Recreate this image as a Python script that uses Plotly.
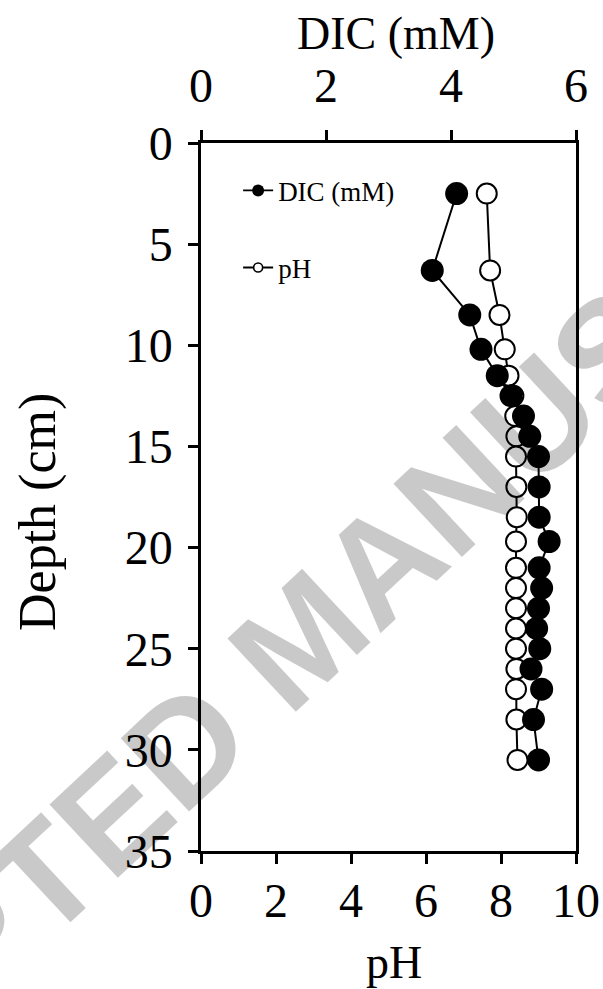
import plotly.graph_objects as go

depth_cm = [2.5, 6.3, 8.5, 10.2, 11.5, 12.5, 13.5, 14.5, 15.5, 17.0, 18.5, 19.7,
            21.0, 22.0, 23.0, 24.0, 25.0, 26.0, 27.0, 28.5, 30.5]
dic_mM = [4.09, 3.70, 4.30, 4.48, 4.74, 4.96, 5.16, 5.26, 5.40, 5.41, 5.41, 5.57,
          5.41, 5.45, 5.40, 5.37, 5.42, 5.28, 5.45, 5.32, 5.40]
ph_vals = [7.62, 7.71, 7.96, 8.10, 8.20, 8.33, 8.38, 8.41, 8.40, 8.41, 8.42, 8.40,
           8.40, 8.40, 8.40, 8.40, 8.40, 8.41, 8.40, 8.41, 8.44]

ph_ticks = [0, 2, 4, 6, 8, 10]
dic_ticks = [0, 2, 4, 6]
depth_ticks = [0, 5, 10, 15, 20, 25, 30, 35]

FONT = "Liberation Serif"
fs_tick = 48
fs_xtitle = 46
fs_ytitle = 52

fig = go.Figure()
# data traces
fig.add_trace(go.Scatter(
    x=ph_vals, y=depth_cm, name="pH", mode="lines+markers",
    xaxis="x", yaxis="y", showlegend=False,
    line=dict(color="black", width=2),
    marker=dict(symbol="circle", size=20, color="white",
                line=dict(color="black", width=2)),
))
fig.add_trace(go.Scatter(
    x=dic_mM, y=depth_cm, name="DIC (mM)", mode="lines+markers",
    xaxis="x2", yaxis="y", showlegend=False,
    line=dict(color="black", width=2),
    marker=dict(symbol="circle", size=23, color="black",
                line=dict(color="black", width=0)),
))
# legend entries (no data, legend only)
fig.add_trace(go.Scatter(
    x=[None], y=[None], name="DIC (mM)", mode="lines+markers",
    legendgroup="a", legendrank=1,
    line=dict(color="black", width=1.8),
    marker=dict(symbol="circle", size=12, color="black", line=dict(width=0)),
))
fig.add_trace(go.Scatter(
    x=[None], y=[None], name="pH", mode="lines+markers",
    legendgroup="b", legendrank=2,
    line=dict(color="black", width=1.8),
    marker=dict(symbol="circle", size=9, color="white",
                line=dict(color="black", width=1.6)),
))

axis_common = dict(showline=True, linecolor="black", linewidth=2.5,
                   ticks="outside", ticklen=10, tickwidth=2.5, tickcolor="black",
                   showgrid=False, zeroline=False,
                   tickfont=dict(family=FONT, size=fs_tick, color="black"))

fig.update_layout(
    width=603, height=989,
    margin=dict(l=201, r=27, t=143, b=138, autoexpand=False),
    paper_bgcolor="white", plot_bgcolor="white",
    font=dict(family=FONT, color="black"),
    showlegend=True,
    legend=dict(x=0.099, y=0.967, xanchor="left", yanchor="top",
                bgcolor="rgba(0,0,0,0)", tracegroupgap=39,
                font=dict(family=FONT, size=27, color="black")),
    xaxis=dict(range=[0, 10], tickvals=ph_ticks, side="bottom",
               ticklabelstandoff=-4, **axis_common),
    xaxis2=dict(range=[0, 6], tickvals=dic_ticks, side="top", overlaying="x",
                anchor="y", ticklabelstandoff=9, **axis_common),
    yaxis=dict(range=[35, 0], tickvals=depth_ticks, mirror=True,
               ticklabelstandoff=6, **axis_common),
    annotations=[
        dict(text="ACCEPTED MANUSCRIPT", xref="paper", yref="paper",
             x=0.268, y=0.302, xanchor="center", yanchor="middle",
             textangle=-43.0, showarrow=False,
             font=dict(family="Liberation Sans", size=146, weight="bold",
                       color="rgba(0,0,0,0.21)")),
        dict(text="DIC (mM)", xref="paper", yref="paper",
             x=(396 - 201) / 375, y=(851 - 33) / 708,
             xanchor="center", yanchor="middle", showarrow=False,
             font=dict(family=FONT, size=fs_xtitle, color="black")),
        dict(text="pH", xref="paper", yref="paper",
             x=(394 - 201) / 375, y=(851 - 962) / 708,
             xanchor="center", yanchor="middle", showarrow=False,
             font=dict(family=FONT, size=fs_xtitle, color="black")),
        dict(text="Depth (cm)", xref="paper", yref="paper",
             x=(38 - 201) / 375, y=(851 - 512) / 708, textangle=-90,
             xanchor="center", yanchor="middle", showarrow=False,
             font=dict(family=FONT, size=fs_ytitle, color="black")),
    ],
)

fig.write_html("out.html")
